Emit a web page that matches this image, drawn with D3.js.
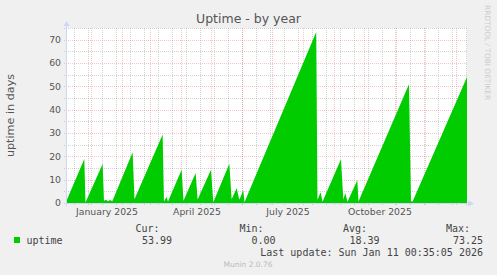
<!DOCTYPE html>
<html>
<head>
<meta charset="utf-8">
<script src="https://cdn.jsdelivr.net/npm/d3@7"></script>
<style>
  html, body { margin: 0; padding: 0; background: #f0f0f0; }
  svg { display: block; }
  text { font-family: "DejaVu Sans", sans-serif; }
  .mono { font-family: "DejaVu Sans Mono", monospace; }
</style>
</head>
<body>
<div id="chart"></div>
<script>
// uptime samples (time, days)
const times = [
    "2024-12-07 01:00", "2024-12-24 08:00", "2024-12-25 12:00", "2025-01-11 16:00",
    "2025-01-13 00:00", "2025-01-15 00:00", "2025-01-17 00:00", "2025-01-19 00:00",
    "2025-01-21 08:00", "2025-02-10 16:00", "2025-02-12 12:00", "2025-03-12 16:00",
    "2025-03-14 00:00", "2025-03-16 12:00", "2025-03-18 00:00", "2025-03-31 16:00",
    "2025-04-02 12:00", "2025-04-14 16:00", "2025-04-16 16:00", "2025-04-30 00:00",
    "2025-05-02 08:00", "2025-05-18 08:00", "2025-05-20 16:00", "2025-05-25 16:00",
    "2025-05-28 08:00", "2025-06-01 08:00", "2025-06-02 12:00", "2025-08-13 06:00",
    "2025-08-14 12:00", "2025-08-17 16:00", "2025-08-19 12:00", "2025-09-07 00:00",
    "2025-09-09 08:00", "2025-09-11 08:00", "2025-09-13 12:00", "2025-09-23 08:00",
    "2025-09-24 12:00", "2025-11-14 00:00", "2025-11-16 00:00", "2025-11-17 12:00",
    "2026-01-11 00:35"
];
const uptime = [
    1.5, 18.9, 0.2, 16.7,
    1.0, 1.4, 0.8, 1.3,
    0.8, 21.7, 1.6, 29.4,
    0.6, 2.6, 0.6, 14.2,
    1.0, 12.9, 1.5, 14.3,
    0.3, 16.8, 1.6, 6.3,
    1.4, 5.5, 0.3, 73.25,
    1.4, 4.6, 0.5, 18.7,
    1.5, 4.3, 0.5, 9.8,
    0.6, 50.9, 0.9, 0.5,
    53.99
];
const yTicks = [0, 10, 20, 30, 40, 50, 60, 70];
const labelMonths = ["2025-01-01 00:00", "2025-04-01 00:00", "2025-07-01 00:00", "2025-10-01 00:00"];
const legendHead = ["Cur:", "Min:", "Avg:", "Max:"];
const legendVals = ["53.99", "0.00", "18.39", "73.25"];
const lastUpdate = "Last update: Sun Jan 11 00:35:05 2026";

const W = 497, H = 275;
const pLeft = 67, pRight = 467, pTop = 28, pBottom = 203;

const parse = d3.timeParse("%Y-%m-%d %H:%M");
const data = times.map((t, i) => ({ t: parse(t), v: uptime[i] }));
const tEnd = data[data.length - 1].t;
const tStart = d3.timeDay.offset(tEnd, -400);

const x = d3.scaleTime().domain([tStart, tEnd]).range([pLeft, pRight]);
const y = d3.scaleLinear().domain([0, 75]).range([pBottom, pTop]);
const px = d => Math.floor(x(d)) + 0.5;

const svg = d3.select("#chart").append("svg")
    .attr("width", W).attr("height", H);

svg.append("rect").attr("width", W).attr("height", H).attr("fill", "#f0f0f0");
svg.append("rect")
    .attr("x", pLeft).attr("y", pTop)
    .attr("width", pRight - pLeft).attr("height", pBottom - pTop)
    .attr("fill", "#fff");

const grid = svg.append("g").attr("stroke-dasharray", "1,1").attr("stroke-width", 1);
const minorCol = "rgba(130,130,130,0.35)", majorCol = "rgba(235,70,70,0.32)";

// horizontal grid
d3.range(5, 80, 10).forEach(v => {
    grid.append("line").attr("x1", pLeft - 3).attr("x2", pRight)
        .attr("y1", Math.round(y(v)) + 0.5).attr("y2", Math.round(y(v)) + 0.5)
        .attr("stroke", minorCol);
});
yTicks.filter(v => v > 0).forEach(v => {
    grid.append("line").attr("x1", pLeft - 3).attr("x2", pRight)
        .attr("y1", Math.round(y(v)) + 0.5).attr("y2", Math.round(y(v)) + 0.5)
        .attr("stroke", majorCol);
});

// vertical grid: every 2 weeks (minor), months (major)
d3.timeSunday.every(2).range(tStart, tEnd).forEach(d => {
    grid.append("line").attr("x1", px(d)).attr("x2", px(d))
        .attr("y1", pTop).attr("y2", pBottom + 3).attr("stroke", minorCol);
});
d3.timeMonth.range(tStart, tEnd).forEach(d => {
    grid.append("line").attr("x1", px(d)).attr("x2", px(d))
        .attr("y1", pTop).attr("y2", pBottom + 3).attr("stroke", majorCol);
});

// area
const area = d3.area()
    .x(d => x(d.t))
    .y0(y(0))
    .y1(d => y(d.v));

svg.append("clipPath").attr("id", "clip")
    .append("rect").attr("x", pLeft).attr("y", pTop - 5)
    .attr("width", pRight - pLeft).attr("height", pBottom - pTop + 5);

svg.append("path")
    .datum(data)
    .attr("clip-path", "url(#clip)")
    .attr("fill", "#00cc00")
    .attr("d", area);

// axes
const axisCol = "#cfd6f8";
svg.append("line").attr("x1", pLeft - 0.5).attr("x2", pLeft - 0.5)
    .attr("y1", pBottom + 3).attr("y2", pTop - 4).attr("stroke", axisCol);
svg.append("path").attr("d", `M${pLeft - 3.5},${pTop - 2} L${pLeft - 0.5},${pTop - 7} L${pLeft + 2.5},${pTop - 2} Z`)
    .attr("fill", axisCol);
svg.append("line").attr("x1", pLeft - 3).attr("x2", pRight + 3)
    .attr("y1", pBottom + 0.5).attr("y2", pBottom + 0.5).attr("stroke", axisCol);
svg.append("path").attr("d", `M${pRight + 1},${pBottom - 2.5} L${pRight + 7},${pBottom + 0.5} L${pRight + 1},${pBottom + 3.5} Z`)
    .attr("fill", axisCol);

// y tick labels
svg.append("g").selectAll("text")
    .data(yTicks).enter().append("text")
    .attr("x", pLeft - 6)
    .attr("y", d => y(d))
    .attr("dy", "0.35em")
    .attr("text-anchor", "end")
    .attr("font-size", 9.3)
    .attr("fill", "#555")
    .text(d => d);

// x labels centred mid-month
const fmt = d3.timeFormat("%B %Y");
svg.append("g").selectAll("text")
    .data(labelMonths.map(parse)).enter().append("text")
    .attr("x", d => x(d) + 15)
    .attr("y", pBottom + 12)
    .attr("text-anchor", "middle")
    .attr("font-size", 9.3)
    .attr("fill", "#555")
    .text(fmt);

// title and axis label
svg.append("text")
    .attr("x", W / 2).attr("y", 23)
    .attr("text-anchor", "middle")
    .attr("font-size", 12.5)
    .attr("fill", "#555")
    .text("Uptime - by year");

svg.append("text")
    .attr("transform", `translate(13.5,${(pTop + pBottom) / 2}) rotate(-90)`)
    .attr("text-anchor", "middle")
    .attr("font-size", 11.2)
    .attr("fill", "#555")
    .text("uptime in days");

svg.append("text")
    .attr("transform", "translate(484.5,5) rotate(90)")
    .attr("font-size", 7.4)
    .attr("fill", "#ccc")
    .text("RRDTOOL / TOBI OETIKER");

// legend
const headEnd = [159.5, 263.5, 367, 470];
const valEnd = [172, 275.5, 379.5, 483];
svg.append("rect").attr("x", 14).attr("y", 237).attr("width", 6).attr("height", 6)
    .attr("fill", "#00cc00");
svg.append("text").attr("class", "mono").attr("x", 26.5).attr("y", 244)
    .attr("font-size", 10).attr("fill", "#444").text("uptime");
legendHead.forEach((h, i) => {
    svg.append("text").attr("class", "mono")
        .attr("x", headEnd[i]).attr("y", 232).attr("text-anchor", "end")
        .attr("font-size", 10).attr("fill", "#444").text(h);
    svg.append("text").attr("class", "mono")
        .attr("x", valEnd[i]).attr("y", 244).attr("text-anchor", "end")
        .attr("font-size", 10).attr("fill", "#444").text(legendVals[i]);
});
svg.append("text").attr("class", "mono")
    .attr("x", 483).attr("y", 255.5).attr("text-anchor", "end")
    .attr("font-size", 10).attr("fill", "#444").text(lastUpdate);

svg.append("text")
    .attr("x", 248).attr("y", 267)
    .attr("text-anchor", "middle")
    .attr("font-size", 7.5)
    .attr("fill", "#bbb")
    .text("Munin 2.0.76");
</script>
</body>
</html>
